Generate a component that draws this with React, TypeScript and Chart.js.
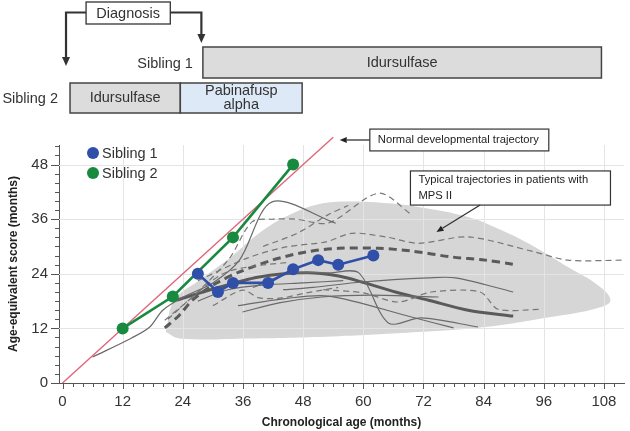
import React, { useEffect, useRef } from 'react';
import { Chart, registerables } from 'chart.js';

Chart.register(...registerables);

// ---------- data ----------
const xTickValues = [0, 12, 24, 36, 48, 60, 72, 84, 96, 108];
const yTickValues = [0, 12, 24, 36, 48];

const sibling1Age = [27, 31, 34, 41, 46, 51, 55, 62];
const sibling1Score = [24, 20, 22, 22, 25, 27, 26, 28];
const sibling2Age = [12, 22, 34, 46];
const sibling2Score = [12, 19, 32, 48];
const normalAge = [0, 54];
const normalScore = [0, 54];

// typical MPS II region (outline, age/score)
const mpsRegion = [
  [20.6, 11.2], [22.3, 18.2], [27.3, 22.6], [33.3, 27.4], [39.2, 32.9], [45.2, 36.9],
  [51.1, 39.3], [57.1, 39.9], [65.0, 39.5], [71.0, 38.7], [80.9, 36.5], [87.5, 33.6],
  [94.2, 29.9], [100.8, 25.5], [106.8, 21.5], [109.3, 18.2], [106.8, 16.5], [97.4, 14.5],
  [84.3, 12.3], [71.0, 11.2], [55.1, 10.3], [37.2, 9.8], [23.3, 9.8], [20.6, 11.2],
];

// typical individual trajectories
const thinSolidA = [[6, 5.7], [13.8, 9.9], [17.4, 12.3], [20, 16], [24.3, 19], [30, 22], [35.3, 27], [41.8, 39.8], [54.5, 35.1]];
const thinSolidB = [[38, 21], [45, 24], [53.2, 24.2], [59.1, 24.2], [65, 13.2], [71.6, 14.3], [82.9, 12.3]];
const thinSolidC = [[44, 20.5], [50, 21], [59.7, 22.2], [73, 23.1], [78.4, 23.1], [89.9, 20]];
const thinSolidD = [[35, 17], [44, 18.5], [53.1, 19.1], [69.6, 14.5], [78, 12.1]];
const thinSolidE = [[35.9, 15.6], [43.2, 17.6], [51.7, 18.9], [61.7, 19.3], [75, 18.9]];
const thinSolidF = [[27, 18], [33, 20.5], [40, 21.5], [48, 22], [56, 22.5]];
const thinDashedA = [[20.4, 13.8], [26.3, 19.3], [33.3, 27.4], [37.8, 35.4], [42.2, 36], [46.5, 36], [53.1, 35.2], [63.1, 41.7], [69.6, 37]];
const thinDashedB = [[27, 22.5], [37, 27.5], [44.6, 29.9], [52.5, 31], [57.7, 32.9], [64.5, 32.1], [71, 30.7], [80.9, 32.1], [94.2, 28.8], [100.8, 27], [112, 27]];
const thinDashedC = [[52, 20.5], [60, 19.8], [67, 17.8], [73.6, 20], [83.3, 20], [86.9, 16.2], [95.2, 16.2]];
const thinDashedD = [[30, 17], [35.9, 20.4], [39.2, 18.7], [43.8, 18.7], [48.6, 19.8], [55, 21]];
const thinDashedE = [[21, 14], [26, 19], [32, 24], [37, 25.5], [45, 26.5]];
const thinDashedF = [[40, 30], [47, 33], [53, 37], [57, 39]];
const thickDashed = [[20.4, 12.1], [23.3, 14.9], [25.9, 18.2], [30.3, 21.7], [35.3, 24.4], [41.8, 27], [48.6, 28.8], [55.1, 29.6], [63.1, 29.6], [69.6, 29], [77.6, 27.7], [84.3, 27], [89.9, 26.1]];
const thickSolid = [[22.7, 18.2], [29.3, 20.4], [39.2, 23.3], [48.6, 24.2], [55.1, 23.5], [59.7, 22.2], [66.4, 20], [73, 18.2], [80.9, 16], [89.9, 14.7]];

const thinSolidLines = [thinSolidA, thinSolidB, thinSolidC, thinSolidD, thinSolidE, thinSolidF];
const thinDashedLines = [thinDashedA, thinDashedB, thinDashedC, thinDashedD, thinDashedE, thinDashedF];

// treatment timeline (months)
const diagnosisAge = [27.7, 0.7]; // sibling 1, sibling 2
const sibling1Therapy = ['Idursulfase'];
const sibling1Start = [28];
const sibling1End = [107.5];
const sibling2Therapy = [['Idursulfase'], ['Pabinafusp', 'alpha']];
const sibling2Start = [1.5, 23.5];
const sibling2End = [23.5, 47.8];
const therapyColors = ['#dcdcdc', '#dde9f6'];

// annotations (age / score coordinates)
const normalNote = { text: ['Normal developmental trajectory'], x1: 61.3, x2: 97.0, y1: 55.8, y2: 51.0, ax: 55.3, ay: 53.4 };
const typicalNote = { text: ['Typical trajectories in patients with', 'MPS II'], x1: 69.4, x2: 109.3, y1: 46.6, y2: 39.1, fx: 83.3, fy: 39.1, ax: 74.6, ay: 33.2 };

const FONT = '"Liberation Sans", Arial, Helvetica, sans-serif';

const pairs = (arr: number[][]) => arr.map(([x, y]) => ({ x, y }));
const zip = (xs: number[], ys: number[]) => xs.map((x, i) => ({ x, y: ys[i] }));

function arrowHead(ctx: CanvasRenderingContext2D, x1: number, y1: number, x2: number, y2: number, len: number, w: number) {
  const a = Math.atan2(y2 - y1, x2 - x1);
  const bx = x2 - len * Math.cos(a);
  const by = y2 - len * Math.sin(a);
  ctx.beginPath();
  ctx.moveTo(x2, y2);
  ctx.lineTo(bx + (w / 2) * Math.sin(a), by - (w / 2) * Math.cos(a));
  ctx.lineTo(bx - (w / 2) * Math.sin(a), by + (w / 2) * Math.cos(a));
  ctx.closePath();
  ctx.fill();
  return [bx, by];
}

const gridPlugin = {
  id: 'gridUnder',
  afterDatasetDraw(chart: any, args: any) {
    if (args.index !== 0) return;
    const { ctx, chartArea } = chart;
    const xs = chart.scales.x;
    const ys = chart.scales.y;
    ctx.save();
    ctx.strokeStyle = '#e4e4e4';
    ctx.lineWidth = 1;
    xTickValues.forEach((v) => {
      if (v === 0) return;
      const p = Math.round(xs.getPixelForValue(v)) + 0.5;
      ctx.beginPath();
      ctx.moveTo(p, chartArea.top);
      ctx.lineTo(p, chartArea.bottom);
      ctx.stroke();
    });
    yTickValues.forEach((v) => {
      if (v === 0) return;
      const p = Math.round(ys.getPixelForValue(v)) + 0.5;
      ctx.beginPath();
      ctx.moveTo(chartArea.left, p);
      ctx.lineTo(chartArea.right, p);
      ctx.stroke();
    });
    ctx.restore();
  },
};

const decorPlugin = {
  id: 'decor',
  afterDraw(chart: any) {
    const { ctx, chartArea } = chart;
    const xs = chart.scales.x;
    const ys = chart.scales.y;
    const px = (v: number) => xs.getPixelForValue(v);
    const py = (v: number) => ys.getPixelForValue(v);
    ctx.save();

    // axis tick marks (major every 12, minor every 2)
    ctx.strokeStyle = '#555';
    ctx.lineWidth = 1;
    for (let v = 0; v <= 110; v += 2) {
      const p = Math.round(px(v)) + 0.5;
      const len = v % 12 === 0 ? 6 : 4;
      ctx.beginPath();
      ctx.moveTo(p, chartArea.bottom);
      ctx.lineTo(p, chartArea.bottom + len);
      ctx.stroke();
    }
    for (let v = 0; v <= 52; v += 2) {
      const p = Math.round(py(v)) + 0.5;
      const len = v % 12 === 0 ? 8 : 4;
      ctx.beginPath();
      ctx.moveTo(chartArea.left, p);
      ctx.lineTo(chartArea.left - len, p);
      ctx.stroke();
    }

    // legend
    const legendItems = [chart.data.datasets[chart.data.datasets.length - 1], chart.data.datasets[chart.data.datasets.length - 2]];
    ctx.font = `14.5px ${FONT}`;
    ctx.textBaseline = 'middle';
    ctx.textAlign = 'left';
    legendItems.forEach((ds: any, i: number) => {
      const cx = chartArea.left + 34;
      const cy = chartArea.top + 8 + i * 20;
      ctx.fillStyle = ds.backgroundColor;
      ctx.beginPath();
      ctx.arc(cx, cy, 6, 0, Math.PI * 2);
      ctx.fill();
      ctx.fillStyle = '#333';
      ctx.fillText(ds.label, cx + 9, cy + 1);
    });

    // annotation boxes
    const drawNote = (n: any, fromX: number, fromY: number, toX: number, toY: number, fontSize: number) => {
      const x1 = px(n.x1), x2 = px(n.x2), y1 = py(n.y1), y2 = py(n.y2);
      ctx.fillStyle = '#fff';
      ctx.fillRect(x1, y1, x2 - x1, y2 - y1);
      ctx.strokeStyle = '#333';
      ctx.lineWidth = 1.2;
      ctx.strokeRect(x1, y1, x2 - x1, y2 - y1);
      ctx.fillStyle = '#222';
      ctx.font = `${fontSize}px ${FONT}`;
      ctx.textAlign = 'left';
      ctx.textBaseline = 'middle';
      const lh = 16;
      const startY = (y1 + y2) / 2 - ((n.text.length - 1) * lh) / 2;
      n.text.forEach((t: string, i: number) => ctx.fillText(t, x1 + 8, startY + i * lh));
      ctx.fillStyle = '#222';
      const [bx, by] = arrowHead(ctx, fromX, fromY, toX, toY, 7, 6);
      ctx.beginPath();
      ctx.moveTo(fromX, fromY);
      ctx.lineTo(bx, by);
      ctx.lineWidth = 1.3;
      ctx.stroke();
    };
    drawNote(normalNote, px(normalNote.x1), (py(normalNote.y1) + py(normalNote.y2)) / 2, px(normalNote.ax), py(normalNote.ay), 11.2);
    drawNote(typicalNote, px(typicalNote.fx), py(typicalNote.fy), px(typicalNote.ax), py(typicalNote.ay), 11.2);

    // treatment timeline
    ctx.font = `14.5px ${FONT}`;
    const box = (x1: number, y1: number, x2: number, y2: number, fill: string, lines: string[]) => {
      ctx.fillStyle = fill;
      ctx.fillRect(x1, y1, x2 - x1, y2 - y1);
      ctx.strokeStyle = '#444';
      ctx.lineWidth = 1.5;
      ctx.strokeRect(x1, y1, x2 - x1, y2 - y1);
      ctx.fillStyle = '#333';
      ctx.textAlign = 'center';
      ctx.textBaseline = 'middle';
      const lh = 14;
      const sy = (y1 + y2) / 2 - ((lines.length - 1) * lh) / 2;
      lines.forEach((t, i) => ctx.fillText(t, (x1 + x2) / 2, sy + i * lh));
    };
    // sibling 1 row
    const r1Top = 47, r1Bot = 78;
    sibling1Therapy.forEach((t, i) => box(px(sibling1Start[i]), r1Top, px(sibling1End[i]), r1Bot, therapyColors[0], [t]));
    ctx.fillStyle = '#333';
    ctx.textAlign = 'right';
    ctx.textBaseline = 'middle';
    ctx.fillText('Sibling 1', px(sibling1Start[0]) - 10, (r1Top + r1Bot) / 2 + 1);
    // sibling 2 row
    const r2Top = 83, r2Bot = 113;
    sibling2Therapy.forEach((t, i) => box(px(sibling2Start[i]), r2Top, px(sibling2End[i]), r2Bot, therapyColors[i], t));
    ctx.fillStyle = '#333';
    ctx.textAlign = 'right';
    ctx.fillText('Sibling 2', px(sibling2Start[0]) - 12, (r2Top + r2Bot) / 2 + 1);

    // diagnosis box and arrows
    const dx1 = px(4.7), dx2 = px(21.5);
    const dy1 = 2, dy2 = 24, dmid = 12.5;
    ctx.strokeStyle = '#333';
    ctx.fillStyle = '#333';
    ctx.lineWidth = 2.2;
    const [lbx, lby] = [px(diagnosisAge[1]), 66];
    ctx.beginPath();
    ctx.moveTo(dx1, dmid);
    ctx.lineTo(lbx, dmid);
    ctx.lineTo(lbx, lby - 8);
    ctx.stroke();
    arrowHead(ctx, lbx, 0, lbx, lby, 9, 8);
    const rbx = px(diagnosisAge[0]);
    ctx.beginPath();
    ctx.moveTo(dx2, dmid);
    ctx.lineTo(rbx, dmid);
    ctx.lineTo(rbx, 43 - 8);
    ctx.stroke();
    arrowHead(ctx, rbx, 0, rbx, 43, 9, 8);
    ctx.fillStyle = '#fff';
    ctx.fillRect(dx1, dy1, dx2 - dx1, dy2 - dy1);
    ctx.strokeStyle = '#333';
    ctx.lineWidth = 1.3;
    ctx.strokeRect(dx1, dy1, dx2 - dx1, dy2 - dy1);
    ctx.fillStyle = '#333';
    ctx.textAlign = 'center';
    ctx.textBaseline = 'middle';
    ctx.fillText('Diagnosis', (dx1 + dx2) / 2, (dy1 + dy2) / 2 + 1);

    ctx.restore();
  },
};

export default function App() {
  const ref = useRef<HTMLCanvasElement | null>(null);
  useEffect(() => {
    document.body.style.margin = '0';
    const canvas = ref.current;
    if (!canvas) return;
    Chart.defaults.font.family = FONT;

    const grey = (arr: number[][], dashed: boolean, thick: boolean) => ({
      label: '',
      data: pairs(arr),
      showLine: true,
      borderColor: thick ? '#5a5a5a' : dashed ? '#777' : '#6a6a6a',
      borderWidth: thick ? 3 : 1.2,
      borderDash: dashed ? (thick ? [8, 5] : [6, 4]) : [],
      pointRadius: 0,
      tension: 0.3,
      fill: false,
      order: 50,
    });

    const datasets: any[] = [
      {
        label: 'MPS II',
        data: pairs(mpsRegion),
        showLine: true,
        fill: 'shape',
        backgroundColor: '#d6d6d6',
        borderColor: 'rgba(0,0,0,0)',
        borderWidth: 0,
        pointRadius: 0,
        tension: 0.4,
        order: 100,
      },
      ...thinSolidLines.map((l) => grey(l, false, false)),
      ...thinDashedLines.map((l) => grey(l, true, false)),
      grey(thickDashed, true, true),
      grey(thickSolid, false, true),
      {
        label: 'Normal',
        data: zip(normalAge, normalScore),
        showLine: true,
        borderColor: '#e0647a',
        borderWidth: 1.4,
        pointRadius: 0,
        clip: false,
        order: 40,
      },
      {
        label: 'Sibling 2',
        data: zip(sibling2Age, sibling2Score),
        showLine: true,
        borderColor: '#178a3f',
        backgroundColor: '#178a3f',
        borderWidth: 2.6,
        pointRadius: 6,
        pointBorderWidth: 0,
        order: 2,
        clip: false,
      },
      {
        label: 'Sibling 1',
        data: zip(sibling1Age, sibling1Score),
        showLine: true,
        borderColor: '#2f4fa8',
        backgroundColor: '#2f4fa8',
        borderWidth: 2.6,
        pointRadius: 6,
        pointBorderWidth: 0,
        order: 1,
      },
    ];

    const chart = new Chart(canvas, {
      type: 'scatter',
      data: { datasets },
      options: {
        responsive: false,
        animation: false,
        devicePixelRatio: 1,
        events: [],
        layout: { padding: { top: 145, right: 3, bottom: 0, left: 0 } },
        plugins: { legend: { display: false }, tooltip: { enabled: false } },
        scales: {
          x: {
            type: 'linear',
            min: -0.7,
            max: 112,
            afterBuildTicks: (s: any) => { s.ticks = xTickValues.map((value) => ({ value })); },
            afterFit: (s: any) => { s.height = 48; },
            grid: { display: false, drawTicks: false },
            border: { display: true, color: '#555', width: 1 },
            ticks: { padding: 10, color: '#333', font: { size: 15 }, autoSkip: false, maxRotation: 0 },
            title: { display: true, text: 'Chronological age (months)', color: '#222', font: { size: 12, weight: 'bold' }, padding: { top: 0, bottom: 1 } },
          },
          y: {
            type: 'linear',
            min: 0,
            max: 52.3,
            afterBuildTicks: (s: any) => { s.ticks = yTickValues.map((value) => ({ value })); },
            afterFit: (s: any) => { s.width = 59; },
            grid: { display: false, drawTicks: false },
            border: { display: true, color: '#555', width: 1 },
            ticks: { padding: 11, color: '#333', font: { size: 15 }, autoSkip: false },
            title: { display: true, text: 'Age-equivalent score (months)', color: '#222', font: { size: 12, weight: 'bold' }, padding: { top: 6, bottom: 0 } },
          },
        },
      } as any,
      plugins: [gridPlugin, decorPlugin],
    });
    return () => chart.destroy();
  }, []);

  return (
    <div style={{ width: 630, height: 431 }}>
      <canvas ref={ref} width={630} height={431} style={{ display: 'block', width: 630, height: 431 }} />
    </div>
  );
}
